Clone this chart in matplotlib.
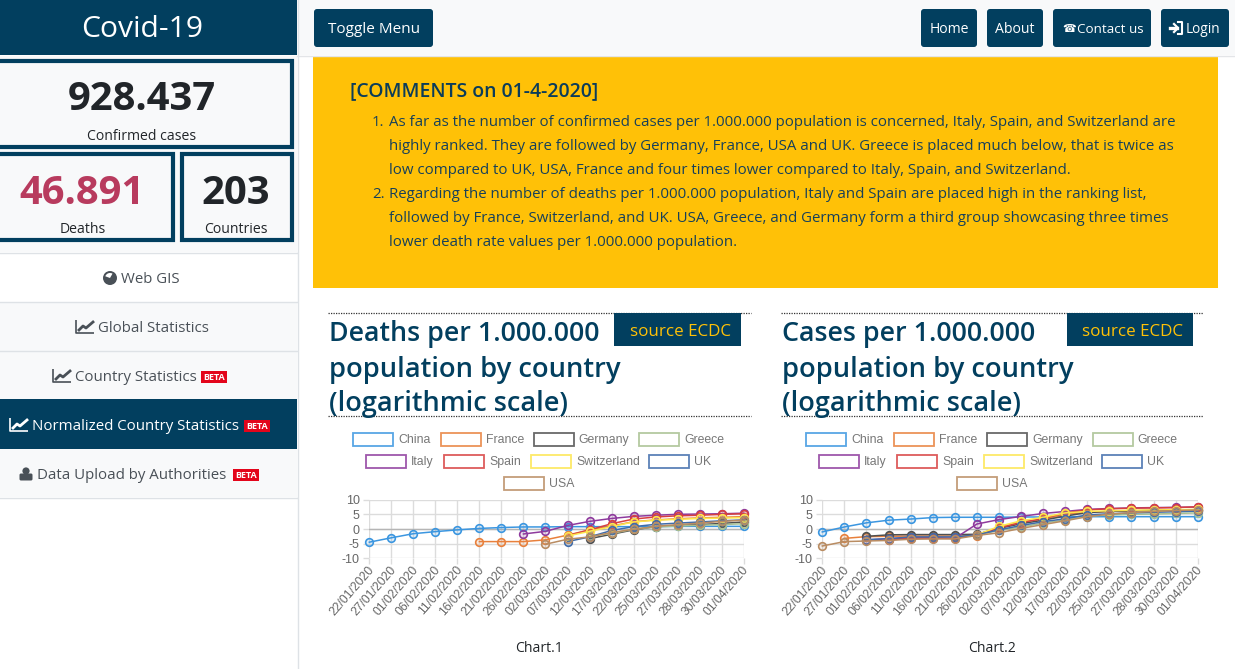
import numpy as np
import matplotlib
matplotlib.use("Agg")
import matplotlib.pyplot as plt
from matplotlib.patches import Rectangle, FancyBboxPatch, Circle, Wedge
from matplotlib.transforms import ScaledTranslation

plt.rcParams["axes.unicode_minus"] = False

nan = np.nan

dates = ["22/01/2020", "27/01/2020", "01/02/2020", "06/02/2020", "11/02/2020", "16/02/2020",
         "21/02/2020", "26/02/2020", "02/03/2020", "07/03/2020", "12/03/2020", "17/03/2020",
         "22/03/2020", "25/03/2020", "27/03/2020", "28/03/2020", "30/03/2020", "01/04/2020"]
countries = ["China", "France", "Germany", "Greece", "Italy", "Spain", "Switzerland", "UK", "USA"]
colors = ["#3b96e0", "#e8803c", "#4f4f4f", "#a8c090", "#8e3a9d", "#d8403f", "#fde64e", "#3f6cab", "#b98c62"]

# chart 1, deaths per 1.000.000 (log scale)
deaths_china = [-4.5, -3.0, -1.6, -0.9, -0.3, 0.2, 0.5, 0.7, 0.7, 0.8, 0.8, 0.8, 0.8, 0.8, 0.9, 0.9, 0.9, 0.9]
deaths_france = [nan, nan, nan, nan, nan, -4.3, -4.3, -4.3, -3.7, -2.1, -0.3, 1.0, 2.5, 3.1, 3.5, 3.8, 4.0, 4.2]
deaths_germany = [nan, nan, nan, nan, nan, nan, nan, nan, nan, nan, -3.3, -1.8, -0.3, 0.8, 1.2, 1.5, 1.9, 2.4]
deaths_greece = [nan, nan, nan, nan, nan, nan, nan, nan, nan, nan, -2.5, -1.5, -0.1, 0.7, 1.0, 1.3, 1.5, 1.8]
deaths_italy = [nan, nan, nan, nan, nan, nan, nan, -1.7, -0.8, 1.2, 2.6, 3.6, 4.3, 4.7, 5.0, 5.1, 5.2, 5.4]
deaths_spain = [nan, nan, nan, nan, nan, nan, nan, nan, nan, -2.3, -0.3, 1.8, 3.4, 4.1, 4.5, 4.7, 5.0, 5.2]
deaths_swiss = [nan, nan, nan, nan, nan, nan, nan, nan, nan, -2.4, -0.8, 0.8, 2.4, 3.0, 3.3, 3.6, 3.7, 3.9]
deaths_uk = [nan, nan, nan, nan, nan, nan, nan, nan, nan, -4.3, -2.7, -0.5, 0.8, 1.6, 2.0, 2.4, 2.8, 3.1]
deaths_usa = [nan, nan, nan, nan, nan, nan, nan, nan, -5.2, -3.5, -2.7, -1.2, -0.1, 0.9, 1.5, 2.0, 2.6, 3.0]

# chart 2, cases per 1.000.000 (log scale)
cases_china = [-1.0, 0.7, 2.1, 3.0, 3.4, 3.9, 4.0, 4.0, 4.0, 4.1, 4.1, 4.2, 4.2, 4.2, 4.2, 4.2, 4.2, 4.2]
cases_france = [nan, -3.2, -2.6, -2.5, -2.4, -2.4, -2.4, -2.3, 0.6, 2.4, 3.4, 5.0, 5.7, 6.0, 6.2, 6.4, 6.5, 6.6]
cases_germany = [nan, nan, -2.5, -2.0, -1.9, -1.9, -1.9, -1.8, 0.2, 1.8, 3.0, 4.4, 5.6, 6.0, 6.2, 6.3, 6.4, 6.5]
cases_greece = [nan, nan, nan, nan, nan, nan, nan, -2.0, -0.5, 0.7, 2.0, 3.1, 4.4, 4.8, 5.0, 5.1, 5.3, 5.5]
cases_italy = [nan, nan, -3.8, -3.3, -3.0, -3.0, -3.2, 1.7, 3.2, 4.3, 5.3, 6.0, 6.7, 7.0, 7.2, 7.3, 7.4, 7.5]
cases_spain = [nan, nan, nan, -3.8, -3.1, -3.1, -3.2, -1.9, 0.4, 2.2, 3.6, 5.5, 6.5, 6.9, 7.1, 7.2, 7.3, 7.6]
cases_swiss = [nan, nan, nan, nan, nan, nan, nan, -2.0, 0.9, 2.8, 4.0, 5.5, 6.0, 6.2, 6.4, 6.5, 6.6, 6.7]
cases_uk = [nan, nan, -3.6, -3.3, -2.7, -2.7, -2.7, -2.0, -0.3, 1.2, 2.5, 3.5, 4.8, 5.2, 5.5, 5.7, 5.9, 6.1]
cases_usa = [-5.8, -4.3, -4.1, -3.9, -3.5, -3.4, -3.4, -2.2, -1.3, 0.2, 1.5, 2.8, 4.2, 5.1, 5.6, 6.0, 6.3, 6.5]

deaths = [deaths_china, deaths_france, deaths_germany, deaths_greece, deaths_italy,
          deaths_spain, deaths_swiss, deaths_uk, deaths_usa]
cases = [cases_china, cases_france, cases_germany, cases_greece, cases_italy,
         cases_spain, cases_swiss, cases_uk, cases_usa]

comment_title = "[COMMENTS on 01-4-2020]"
comment_lines = [
    "As far as the number of confirmed cases per 1.000.000 population is concerned, Italy, Spain, and Switzerland are",
    "highly ranked. They are followed by Germany, France, USA and UK. Greece is placed much below, that is twice as",
    "low compared to UK, USA, France and four times lower compared to Italy, Spain, and Switzerland.",
    "Regarding the number of deaths per 1.000.000 population, Italy and Spain are placed high in the ranking list,",
    "followed by France, Switzerland, and UK. USA, Greece, and Germany form a third group showcasing three times",
    "lower death rate values per 1.000.000 population.",
]

W, H = 1235, 669
NAVY = "#023f5f"
UI = ["Open Sans", "DejaVu Sans"]
CHART = ["Liberation Sans", "DejaVu Sans"]

fig = plt.figure(figsize=(W / 100, H / 100), dpi=100, facecolor="white")
bg = fig.add_axes([0, 0, 1, 1])
bg.set_xlim(0, W)
bg.set_ylim(H, 0)
bg.axis("off")


def box(x0, y0, x1, y1, fc, ec="none", lw=0, z=1):
    bg.add_patch(Rectangle((x0, y0), x1 - x0, y1 - y0, fc=fc, ec=ec, lw=lw, zorder=z))


def rbox(x0, y0, x1, y1, fc):
    bg.add_patch(FancyBboxPatch((x0 + 3, y0 + 3), x1 - x0 - 6, y1 - y0 - 6,
                                boxstyle="round,pad=3", fc=fc, ec="none", zorder=2))


def label(x, y, s, px=16, color="#212529", ha="left", weight="normal", family=UI):
    # Open Sans sits high with va=center, push it down a bit
    if family is UI:
        y = y + 0.13 * px
    bg.text(x, y, s, fontsize=px * 0.72, color=color, ha=ha, va="center", fontweight=weight,
            family=family, zorder=5)


def chart_icon(x, y, color, w=18):
    bg.plot([x, x, x + w], [y - 7, y + 6, y + 6], color=color, lw=1.2, zorder=5, solid_capstyle="butt")
    bg.plot([x + 3, x + 7, x + 10, x + w - 1], [y + 3, y - 1, y + 1, y - 5], color=color, lw=2, zorder=5)


def user_icon(x, y, color):
    bg.add_patch(Circle((x + 6, y - 3), 3.6, fc=color, ec="none", zorder=5))
    bg.add_patch(FancyBboxPatch((x + 1, y + 1), 10, 4, boxstyle="round,pad=1.5", fc=color, ec="none", zorder=5))


def login_icon(x, y, color):
    bg.plot([x + 8, x + 12, x + 12, x + 8], [y - 6, y - 6, y + 6, y + 6], color=color, lw=1.5, zorder=5)
    bg.plot([x, x + 7], [y, y], color=color, lw=2.4, zorder=5)
    bg.plot([x + 4, x + 8, x + 4], [y - 4, y, y + 4], color=color, lw=1.6, zorder=5)


def beta(x0, y0):
    box(x0, y0, x0 + 26, y0 + 12, "#e3051b", z=4)
    label(x0 + 13, y0 + 5.5, "BETA", px=9, color="white", ha="center", weight="bold")


# top bar and sidebar
box(297, 0, W, 55, "#f8f9fa")
bg.plot([297, W], [55.5, 55.5], color="#e3e5e8", lw=1, zorder=2)
bg.plot([297.5, 297.5], [0, H], color="#dee2e6", lw=1, zorder=2)
box(0, 0, 297, 55, NAVY, z=3)
label(142, 26, "Covid-19", px=30, color="white", ha="center")

box(0, 56, 297, 252, "#f8f9fa")
for x0, y0, x1, y1 in [(-6, 61, 292, 147), (-6, 154, 173, 240), (182, 154, 292, 240)]:
    box(x0, y0, x1, y1, "#f8f9fa", ec=NAVY, lw=3, z=2)
label(142, 94, "928.437", px=40, ha="center", weight="bold")
label(142, 135, "Confirmed cases", px=14, ha="center")
label(82, 188, "46.891", px=40, color="#b83b5e", ha="center", weight="bold")
label(83, 228, "Deaths", px=14, ha="center")
label(236, 188, "203", px=40, ha="center", weight="bold")
label(236, 228, "Countries", px=14, ha="center")

# menu
box(0, 302, 297, 497, "#f8f9fa")
box(0, 399, 297, 449, NAVY, z=2)
for yy in [252.5, 301.5, 350.5, 497.5]:
    bg.plot([0, 297], [yy, yy], color="#dee2e6", lw=1, zorder=3)
MENU = "#495057"
bg.add_patch(Circle((110, 278), 7, fc=MENU, ec="none", zorder=5))
bg.add_patch(Wedge((110, 278), 5, 200, 300, fc="#ffffff", ec="none", zorder=6))
label(121, 278, "Web GIS", px=15, color=MENU)
chart_icon(76, 327, MENU)
label(98, 327, "Global Statistics", px=15, color=MENU)
chart_icon(53, 376, MENU)
label(75, 376, "Country Statistics", px=15, color=MENU)
beta(201, 371)
chart_icon(10, 425, "white")
label(32, 425, "Normalized Country Statistics", px=15, color="white")
beta(244, 420)
user_icon(20, 474, MENU)
label(37, 474, "Data Upload by Authorities", px=15, color=MENU)
beta(233, 469)

# buttons
rbox(314, 9, 433, 47, NAVY)
label(374, 27.5, "Toggle Menu", px=15.3, color="white", ha="center")
for x0, x1, text in [(921, 977, "Home"), (987, 1043, "About")]:
    rbox(x0, 9, x1, 47, NAVY)
    label((x0 + x1) / 2, 27.5, text, px=14, color="white", ha="center")
rbox(1053, 9, 1151, 47, NAVY)
label(1062, 29, "\u260e", px=11, color="white", family=["DejaVu Sans"])
label(1077, 27.5, "Contact us", px=13.4, color="white")
rbox(1161, 9, 1229, 47, NAVY)
login_icon(1170, 28, "white")
label(1186, 27.5, "Login", px=13.6, color="white")

# comments panel
box(313, 56, 1218, 288, "#ffc107")
label(350, 89, comment_title, px=19.4, color="#0b3c5a", weight="semibold")
label(372, 121, "1.", px=15, color="#17405a")
label(372, 193, "2.", px=15, color="#17405a")
for yy, line in zip([121, 145, 169, 193, 217, 241], comment_lines):
    label(389, yy, line, px=15, color="#17405a")

# section headings
for x0, x1, sx0, sx1, sx, head, cap, cx in [(328, 751, 614, 741, 680.5, "Deaths", "Chart.1", 539),
                                            (781, 1203, 1067, 1193, 1132.5, "Cases", "Chart.2", 992)]:
    bg.plot([x0, x1], [312.5, 312.5], color="#333333", lw=0.9, ls=(0, (1, 1)), zorder=2)
    bg.plot([x0, x1], [415.5, 415.5], color="#333333", lw=0.9, ls=(0, (1, 1)), zorder=2)
    box(sx0, 313, sx1, 346, NAVY, z=3)
    label(sx, 330, "source ECDC", px=17, color="#ffc107", ha="center")
    label(x0 + 1, 331, head + " per 1.000.000", px=26.8, color=NAVY, weight="semibold")
    label(x0 + 1, 366, "population by country", px=27.4, color=NAVY, weight="semibold")
    label(x0 + 1, 400, "(logarithmic scale)", px=27.1, color=NAVY, weight="semibold")
    label(cx, 647, cap, px=14, ha="center")

# chart.js style legends, drawn once per chart
legend_row = [0, 0, 0, 0, 1, 1, 1, 1, 2]
legend_x = [353, 440.7, 533.7, 639.3, 366, 444, 531, 648.7, 503.7]
row_y = [439.5, 461.5, 483.5]
for dx in [0, 453.3]:
    for name, col, row, lx in zip(countries, colors, legend_row, legend_x):
        yy = row_y[row]
        bg.add_patch(Rectangle((lx + dx, yy - 6.5), 40, 13, fc="white", ec=col, lw=1.3, alpha=0.85, zorder=3))
        bg.text(lx + dx + 45, yy + 3.5, name, fontsize=8.8, color="#777777", va="baseline",
                family=CHART, zorder=5)


def draw_chart(left, right, series):
    ax = fig.add_axes([left / W, 1 - 558.3 / H, (right - left) / W, (558.3 - 499.7) / H], facecolor="none")
    pos = np.arange(len(dates))
    for values, col in zip(series, colors):
        ax.plot(pos, values, color=col, lw=1.1, marker="o", ms=5.5, mfc=col + "26", mec=col, mew=1.2,
                clip_on=False, zorder=3)
    ax.set_xlim(0, len(dates) - 1)
    ax.set_ylim(-10, 10)
    ax.set_yticks([-10, -5, 0, 5, 10])
    ax.set_xticks(pos)
    ax.set_xticklabels(dates, rotation=49, ha="right", rotation_mode="anchor")
    ax.grid(True, color="#dcdcdc", lw=1)
    ax.axhline(0, color="#b5b5b5", lw=1, zorder=1)
    ax.set_axisbelow(True)
    for side in ax.spines.values():
        side.set_visible(False)
    ax.tick_params(length=4, width=1, color="#dcdcdc", labelcolor="#666666", labelsize=9, pad=3)
    ax.tick_params(axis="x", labelsize=8.7, pad=0)
    shift = ScaledTranslation(-1.5 / 100, 0, fig.dpi_scale_trans)
    for t in ax.get_xticklabels():
        t.set_transform(t.get_transform() + shift)
    for t in ax.get_xticklabels() + ax.get_yticklabels():
        t.set_family(CHART)
    return ax


draw_chart(369.3, 743.7, deaths)
draw_chart(822.3, 1197.7, cases)

fig.savefig("out.png", dpi=100)
